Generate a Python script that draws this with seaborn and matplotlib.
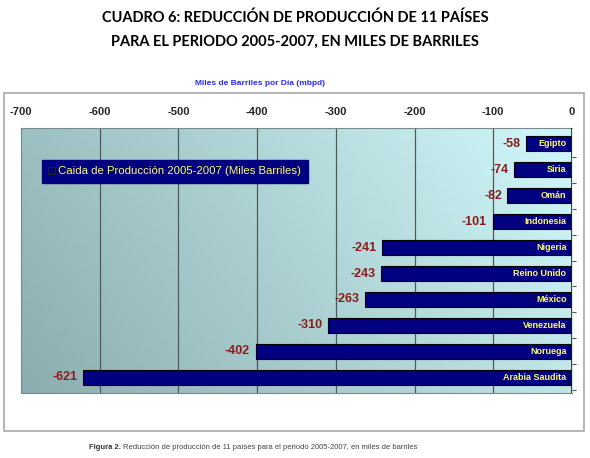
import numpy as np
import pandas as pd
import matplotlib
matplotlib.use('Agg')
import matplotlib.pyplot as plt
from matplotlib.colors import LinearSegmentedColormap
from matplotlib.patches import Rectangle
import seaborn as sns

# Data
paises = ['Egipto', 'Siria', 'Omán', 'Indonesia', 'Nigeria', 'Reino Unido',
          'México', 'Venezuela', 'Noruega', 'Arabia Saudita']
caida = [-58, -74, -82, -101, -241, -243, -263, -310, -402, -621]
xticks = [-700, -600, -500, -400, -300, -200, -100, 0]

df = pd.DataFrame({'Pais': paises, 'Caida': caida})

sns.set_style('white')
plt.rcParams['font.family'] = ['Liberation Sans', 'DejaVu Sans']

fig = plt.figure(figsize=(5.9, 4.58), dpi=100)
ax = fig.add_axes([0.0356, 0.1419, 0.9339, 0.5786])

# outer frame of the chart
fig.patches.append(Rectangle((0.0068, 0.059), 0.983, 0.738, transform=fig.transFigure,
                             facecolor='white', edgecolor='#a8a8a8', lw=1.2, zorder=-1))

# gradient background of the plot area
gx, gy = np.meshgrid(np.linspace(0, 1, 200), np.linspace(1, 0, 100))
grad = 0.75 * gx + 0.25 * gy
cmap = LinearSegmentedColormap.from_list('bg', ['#8cadaf', '#d0f8fa'])
ax.imshow(grad, cmap=cmap, extent=[0, 1, 0, 1], transform=ax.transAxes,
          aspect='auto', zorder=0)

sns.barplot(data=df, x='Caida', y='Pais', orient='h', color='#000080',
            edgecolor='black', linewidth=0.8, width=0.6, saturation=1,
            label='Caida de Producción 2005-2007 (Miles Barriles)', ax=ax, zorder=3)

ax.set_xlim(-700, 0)
ax.set_ylim(len(paises) - 0.4, -0.6)
ax.set_xticks(xticks)
ax.set_xticklabels([str(t) for t in xticks], fontsize=8, fontweight='bold')
ax.xaxis.tick_top()
ax.tick_params(axis='x', length=0, pad=8)
for t in xticks[1:-1]:
    ax.axvline(t, color='#505a5a', lw=0.9, zorder=1)
ax.axvline(0, color='#222222', lw=1.2, zorder=4)

# small ticks at category boundaries on the zero axis
ax.yaxis.tick_right()
ax.set_yticks(np.arange(len(paises)) + 0.5)
ax.set_yticklabels([])
ax.tick_params(axis='y', length=3, color='#555555', direction='out')
ax.set_ylabel('')
ax.set_xlabel('')

for s in ['top', 'left', 'bottom']:
    ax.spines[s].set_color('#7a8a8a')
    ax.spines[s].set_linewidth(0.8)
ax.spines['right'].set_visible(False)

for i, (p, v) in enumerate(zip(paises, caida)):
    ax.text(-7, i, p, ha='right', va='center', fontsize=6.5, fontweight='bold',
            color='#ffff55', zorder=5)
    ax.text(v - 7, i, str(v), ha='right', va='center', fontsize=9, fontweight='bold',
            color='#8e1b1b', zorder=5)

leg = ax.legend(loc='upper left', bbox_to_anchor=(0.038, 0.879), borderaxespad=0,
                fancybox=False, facecolor='#000080', edgecolor='#000080', framealpha=1,
                fontsize=8.2, handlelength=0.6, handleheight=0.6, handletextpad=0.3,
                borderpad=0.55, labelcolor='#ffff66')
leg.set_zorder(6)
for h in leg.legend_handles:
    h.set_edgecolor('#222222')

fig.text(0.44, 0.818, 'Miles de Barriles por Día (mbpd)', ha='center', va='center',
         fontsize=6, fontweight='bold', color='#2a2aff')

fig.text(0.5, 0.961, 'CUADRO 6: REDUCCIÓN DE PRODUCCIÓN DE 11 PAÍSES',
         ha='center', va='center', fontsize=10.5, fontweight='bold', color='black',
         family=['Lato', 'DejaVu Sans'])
fig.text(0.5, 0.908, 'PARA EL PERIODO 2005-2007, EN MILES DE BARRILES',
         ha='center', va='center', fontsize=10.5, fontweight='bold', color='black',
         family=['Lato', 'DejaVu Sans'])

fig.text(0.151, 0.024, 'Figura 2.', ha='left', va='center', fontsize=5.5,
         fontweight='bold', color='#333333')
fig.text(0.209, 0.024, 'Reducción de producción de 11 países para el periodo 2005-2007, en miles de barriles',
         ha='left', va='center', fontsize=5.5, color='#444444')

fig.savefig('out.png', dpi=100)
